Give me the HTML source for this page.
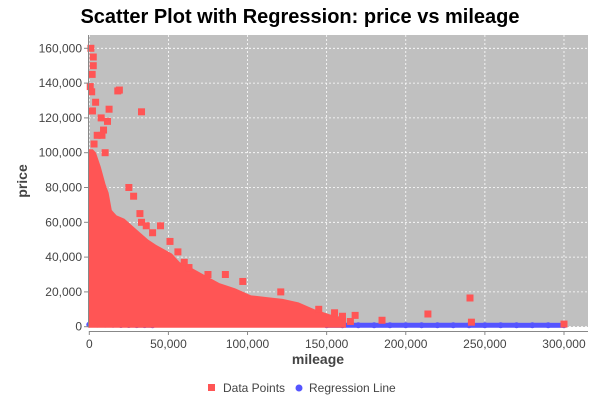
<!DOCTYPE html>
<html><head><meta charset="utf-8"><style>
body{margin:0;background:#fff;}
svg{display:block;font-family:"Liberation Sans","DejaVu Sans",sans-serif;}
</style></head><body>
<svg id="chart" width="600" height="400">
<rect width="600" height="400" fill="#fff"/>
<text x="300" y="23" text-anchor="middle" font-size="20" font-weight="bold" fill="#000">Scatter Plot with Regression: price vs mileage</text>
<rect x="89" y="35" width="499" height="292" fill="#c0c0c0"/>
<g id="grid"></g><g id="reg"></g><g id="pts"></g>
<line x1="88.5" y1="35" x2="88.5" y2="327" stroke="#888"/>
<line x1="89" y1="331.5" x2="588" y2="331.5" stroke="#888"/>
<g id="ticks"></g>
<text x="318" y="364" text-anchor="middle" font-size="14" font-weight="bold" fill="#444">mileage</text>
<text transform="translate(27,181) rotate(-90)" text-anchor="middle" font-size="14" font-weight="bold" fill="#444">price</text>
<g>
<rect x="208" y="384" width="7" height="7" fill="#ff5555"/>
<text x="223" y="392" font-size="12" fill="#444">Data Points</text>
<circle cx="299" cy="388" r="3.5" fill="#5555ff"/>
<text x="309" y="392" font-size="12" fill="#444">Regression Line</text>
</g>
</svg>
<script>
const xTicks=[0,50000,100000,150000,200000,250000,300000];
const yTicks=[0,20000,40000,60000,80000,100000,120000,140000,160000];
const envMileage=[0,2000,5000,8000,10000,12000,15000,20000,25000,30000,35000,40000,50000,55000,60000,70000,80000,90000,100000,110000,120000,130000,140000,150000,160000];
const envPrice=[100000,98000,90000,80000,75000,65000,62000,60000,56000,52000,48000,45000,40000,35000,33000,28000,23000,20000,16000,15000,14000,12000,8000,5000,3000];
const outMileage=[1000,2500,2500,1800,600,1500,18000,19000,4000,2000,12500,33000,7500,9000,11500,5000,8000,3000,10000,25000,28000,32000,33000,36000,45000,40000,51000,56000,60000,63000,75000,86000,97000,121000,145000,155000,160000,165000,168000,185000,214000,240600,241500,300000];
const outPrice=[160000,155000,150000,145000,138000,135000,135500,136000,129000,124000,125000,123500,120000,113000,118000,110000,110000,105000,100000,80000,75000,65000,60000,58000,58000,54000,49000,43000,37000,34000,30000,30000,26000,20000,10000,8000,6000,3000,6500,3700,7300,16500,2600,1500];
const regMileage=[0,5000,10000,15000,20000,25000,30000,35000,40000,150000,160000,170000,180000,190000,200000,210000,220000,230000,240000,250000,260000,270000,280000,290000,300000];
const regPrice=[1200,1200,1200,1100,1000,1000,900,900,800,800,800,800,800,800,800,800,800,800,800,800,800,800,800,800,800];
const NS='http://www.w3.org/2000/svg';
const X=v=>89.3+v*0.0015823, Y=v=>326.7-v*0.00174;
function mk(t,a,p){const e=document.createElementNS(NS,t);for(const k in a)e.setAttribute(k,a[k]);p.appendChild(e);return e;}
const grid=document.getElementById('grid'),ticks=document.getElementById('ticks');
xTicks.forEach(v=>{
 const g=mk('line',{x1:X(v),x2:X(v),y1:35,y2:327,stroke:'#fff','stroke-dasharray':'2,2','stroke-width':0.8},grid);
 
 
 mk('line',{x1:X(v),x2:X(v),y1:331,y2:335,stroke:'#888'},ticks);
 const t=mk('text',{x:X(v),y:348,'text-anchor':'middle','font-size':12,fill:'#444'},ticks);
 t.textContent=v.toLocaleString('en-US');
 
 
});
yTicks.forEach(v=>{
 const g=mk('line',{x1:89,x2:588,y1:Y(v),y2:Y(v),stroke:'#fff','stroke-dasharray':'2,2','stroke-width':0.8},grid);
 
 
 mk('line',{x1:84,x2:88,y1:Y(v),y2:Y(v),stroke:'#888'},ticks);
 const t=mk('text',{x:82,y:Y(v)+4,'text-anchor':'end','font-size':12,fill:'#444'},ticks);
 t.textContent=v.toLocaleString('en-US');
 
 
});
const reg=document.getElementById('reg');
regMileage.forEach((m,i)=>{
 const c=mk('circle',{cx:X(m),cy:Y(regPrice[i]),r:3,fill:'#5555ff'},reg);
 
 
});
for(let i=1;i<regMileage.length;i++){
 if(regMileage[i]-regMileage[i-1]<=10000){
  const l=mk('line',{x1:X(regMileage[i-1]),x2:X(regMileage[i]),y1:Y(regPrice[i-1]),y2:Y(regPrice[i]),stroke:'#5555ff','stroke-width':5},reg);
  
  
 }
}
const pts=document.getElementById('pts');
let d='M'+(X(0)-1)+','+(Y(0)+1)+' L'+(X(0)-1)+','+(Y(envPrice[0])-3.5);
envMileage.forEach((m,i)=>{d+=' L'+(X(m)+3.5)+','+(Y(envPrice[i])-3.5);});
d+=' L'+(X(envMileage[envMileage.length-1])+3.5)+','+(Y(0)+1)+' Z';
const mass=mk('path',{d:d,fill:'#ff5555'},pts);


outMileage.forEach((m,i)=>{
 const r=mk('rect',{x:X(m)-3.5,y:Y(outPrice[i])-3.5,width:7,height:7,fill:'#ff5555'},pts);
 
 
});
</script>
</body></html>
